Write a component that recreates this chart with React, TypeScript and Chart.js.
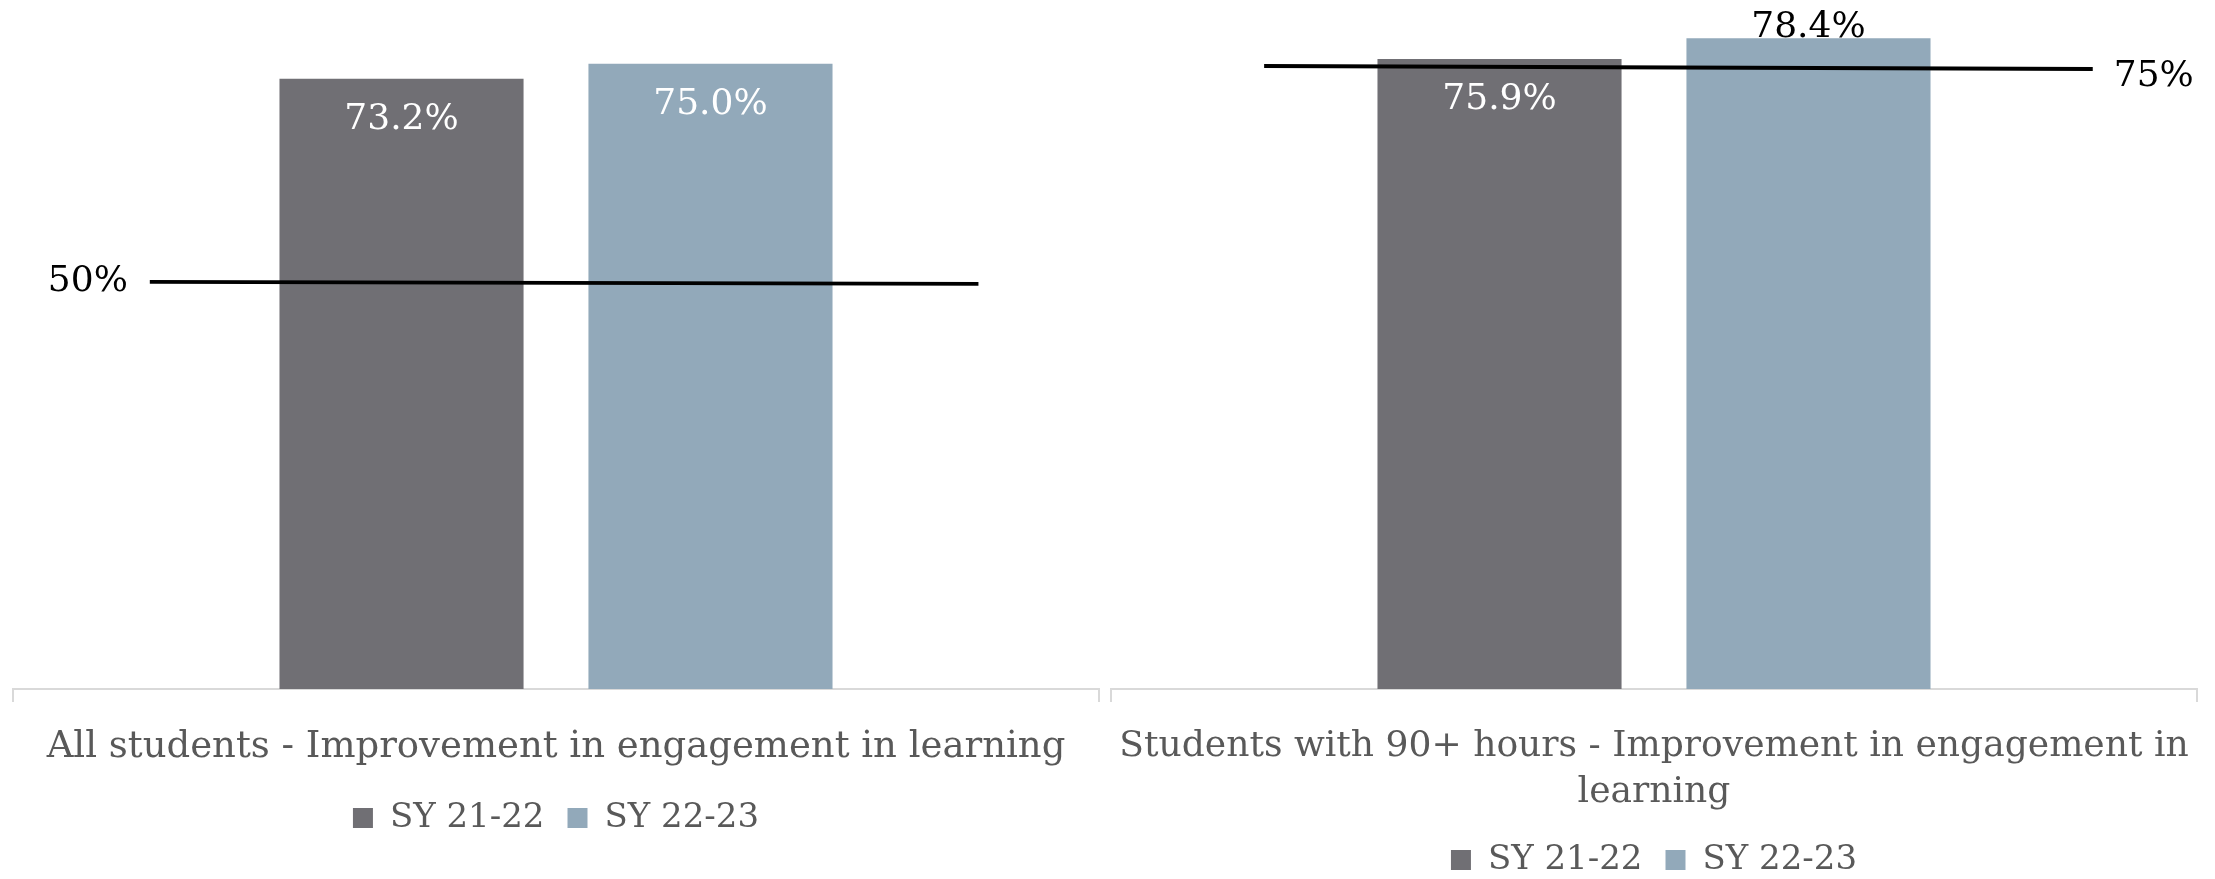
import React, { useEffect, useRef } from 'react';
import { Chart, registerables } from 'chart.js';

Chart.register(...registerables);

// ---------- data ----------
const seriesNames = ['SY 21-22', 'SY 22-23'];
const leftCategories = ['All students - Improvement in engagement in learning'];
const rightCategories = [['Students with 90+ hours - Improvement in engagement in', 'learning']];
const leftSY2122 = [73.2];
const leftSY2223 = [75.0];
const rightSY2122 = [75.9];
const rightSY2223 = [78.4];
const leftTargetLabel = '50%';
const rightTargetLabel = '75%';
// hand-drawn target lines (x: fraction of plot width, y: value %)
const leftTargetLine = [
  { x: 0.126, y: 48.84 },
  { x: 0.889, y: 48.6 },
];
const rightTargetLine = [
  { x: 0.141, y: 75.06 },
  { x: 0.904, y: 74.7 },
];
const yMin = 0;
const yMax = 80;

// ---------- styles ----------
const FONT = '"DejaVu Serif", serif';
const DARK = '#706F74';
const LIGHT = '#92A9BA';
const GREY_TEXT = '#595959';
const AXIS = '#D9D9D9';

type Spec = {
  categories: any[];
  a: number[];
  b: number[];
  line: { x: number; y: number }[];
  targetLabel: string;
  targetSide: 'left' | 'right';
  placement: ('inside' | 'outside')[];
  pad: { top: number; left: number; right: number; bottom: number };
  axisH: number;
  tickSize: number;
};

function makeLabelsPlugin(spec: Spec) {
  return {
    id: 'customLabels',
    afterDatasetsDraw(chart: any) {
      const ctx = chart.ctx;
      ctx.save();
      ctx.font = `36px ${FONT}`;
      ctx.textAlign = 'center';
      ctx.textBaseline = 'middle';
      chart.data.datasets.forEach((ds: any, di: number) => {
        if (ds.type === 'line') return;
        const meta = chart.getDatasetMeta(di);
        meta.data.forEach((el: any, i: number) => {
          const v = ds.data[i] as number;
          const text = v.toFixed(1) + '%';
          if (spec.placement[di] === 'inside') {
            ctx.fillStyle = '#FFFFFF';
            ctx.fillText(text, el.x, el.y + 41);
          } else {
            ctx.fillStyle = '#000000';
            ctx.fillText(text, el.x, el.y - 11);
          }
        });
      });
      const li = chart.data.datasets.findIndex((d: any) => d.type === 'line');
      if (li >= 0) {
        const pts = chart.getDatasetMeta(li).data;
        ctx.fillStyle = '#000000';
        if (spec.targetSide === 'left') {
          ctx.textAlign = 'right';
          ctx.fillText(spec.targetLabel, pts[0].x - 22, pts[0].y);
        } else {
          const p = pts[pts.length - 1];
          ctx.textAlign = 'left';
          ctx.fillText(spec.targetLabel, p.x + 21, p.y + 8);
        }
      }
      ctx.restore();
    },
  };
}

function buildConfig(spec: Spec): any {
  return {
    type: 'bar',
    data: {
      labels: spec.categories,
      datasets: [
        {
          type: 'line',
          label: 'target',
          data: spec.line,
          xAxisID: 'xLine',
          yAxisID: 'y',
          borderColor: '#000000',
          borderWidth: 3.8,
          pointRadius: 0,
          fill: false,
          order: -1,
        },
        {
          label: seriesNames[0],
          data: spec.a,
          xAxisID: 'x',
          yAxisID: 'y',
          backgroundColor: DARK,
          categoryPercentage: 1.138,
          barPercentage: 0.79,
        },
        {
          label: seriesNames[1],
          data: spec.b,
          xAxisID: 'x',
          yAxisID: 'y',
          backgroundColor: LIGHT,
          categoryPercentage: 1.138,
          barPercentage: 0.79,
        },
      ],
    },
    options: {
      responsive: false,
      animation: false,
      devicePixelRatio: 1,
      layout: { padding: spec.pad },
      scales: {
        x: {
          type: 'category',
          position: 'bottom',
          offset: true,
          border: { display: true, color: AXIS, width: 2 },
          grid: {
            display: true,
            offset: true,
            drawOnChartArea: false,
            drawTicks: true,
            tickLength: 13,
            color: AXIS,
            lineWidth: 2,
          },
          ticks: {
            color: GREY_TEXT,
            font: { family: FONT, size: spec.tickSize, lineHeight: 1.27 },
            padding: 22,
            maxRotation: 0,
            minRotation: 0,
            autoSkip: false,
          },
          afterFit: (scale: any) => {
            scale.height = spec.axisH;
            scale.paddingLeft = 0;
            scale.paddingRight = 0;
          },
        },
        xLine: {
          type: 'linear',
          display: false,
          offset: false,
          grid: { offset: false },
          min: 0,
          max: 1,
        },
        y: {
          display: false,
          min: yMin,
          max: yMax,
        },
      },
      plugins: {
        legend: {
          display: true,
          position: 'bottom',
          labels: {
            filter: (item: any) => item.text !== 'target',
            color: GREY_TEXT,
            font: { family: FONT, size: 34 },
            boxWidth: 20,
            boxHeight: 20,
            padding: 23,
          },
        },
        tooltip: { enabled: false },
        title: { display: false },
      },
    },
    plugins: [makeLabelsPlugin(spec)],
  };
}

const CANVAS_H = 930;

const leftSpec: Spec = {
  categories: leftCategories,
  a: leftSY2122,
  b: leftSY2223,
  line: leftTargetLine,
  targetLabel: leftTargetLabel,
  targetSide: 'left',
  placement: ['inside', 'inside', 'inside'],
  pad: { top: 22, left: 13, right: 6, bottom: 85 },
  axisH: 89,
  tickSize: 37,
};

const rightSpec: Spec = {
  categories: rightCategories,
  a: rightSY2122,
  b: rightSY2223,
  line: rightTargetLine,
  targetLabel: rightTargetLabel,
  targetSide: 'right',
  placement: ['inside', 'inside', 'outside'],
  pad: { top: 25, left: 6, right: 18, bottom: 43 },
  axisH: 131,
  tickSize: 36.1,
};

function ChartCanvas({ spec, width, left }: { spec: Spec; width: number; left: number }) {
  const ref = useRef<HTMLCanvasElement | null>(null);
  useEffect(() => {
    if (!ref.current) return;
    const chart = new Chart(ref.current, buildConfig(spec));
    return () => chart.destroy();
  }, [spec]);
  return (
    <canvas
      ref={ref}
      width={width}
      height={CANVAS_H}
      style={{ position: 'absolute', left, top: 0, width, height: CANVAS_H, display: 'block' }}
    />
  );
}

export default function App() {
  return (
    <div
      style={{
        position: 'absolute',
        left: 0,
        top: 0,
        width: 2215,
        height: 879,
        overflow: 'hidden',
        background: '#FFFFFF',
      }}
    >
      <ChartCanvas spec={leftSpec} width={1105} left={0} />
      <ChartCanvas spec={rightSpec} width={1110} left={1105} />
    </div>
  );
}
